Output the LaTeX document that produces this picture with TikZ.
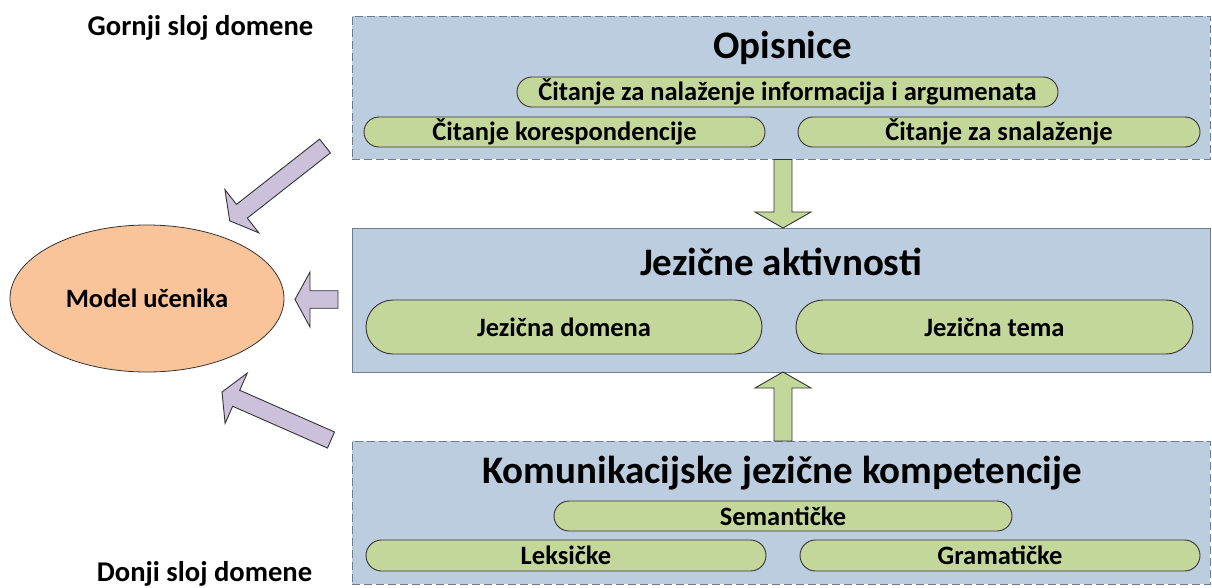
\documentclass[tikz,border=0pt]{standalone}
\usepackage{fontspec}
\setmainfont{Carlito}
\usetikzlibrary{calc,shapes.misc,shapes.geometric}
\definecolor{boxfill}{HTML}{BDCDE0}
\definecolor{boxline}{HTML}{6F7C8C}
\definecolor{pillfill}{HTML}{C4D79B}
\definecolor{ellfill}{HTML}{F9C49A}
\definecolor{purp}{HTML}{CCC1DA}
\newcommand{\blockarr}[6]{%
  \coordinate (#2-hb) at ($(#3)!#6pt!(#2)$);
  \path[#1] ($(#2)!#4pt!90:(#3)$) -- ($(#2-hb)!#4pt!90:(#3)$) -- ($(#2-hb)!#5pt!90:(#3)$) -- (#3)
    -- ($(#2-hb)!#5pt!-90:(#3)$) -- ($(#2-hb)!#4pt!-90:(#3)$) -- ($(#2)!#4pt!-90:(#3)$) -- cycle;}
\begin{document}
\begin{tikzpicture}[x=1pt,y=-1pt,
  layerbox/.style={fill=boxfill,draw=boxline,line width=0.9pt,inner sep=0pt},
  dashbox/.style={layerbox,dash pattern=on 8pt off 4pt},
  pill/.style={shape=rounded rectangle,fill=pillfill,draw=black!80,line width=0.9pt,inner sep=0pt,
    font=\fontsize{26.5}{30}\selectfont\bfseries},
  ttl/.style={font=\fontsize{39}{44}\selectfont\bfseries,inner sep=0pt},
  side/.style={font=\fontsize{28.6}{32}\selectfont\bfseries,inner sep=0pt},
  greenarr/.style={fill=pillfill,draw=black!80,line width=0.9pt,line join=miter},
  purparr/.style={fill=purp,draw=black!80,line width=0.9pt,line join=miter}]
\useasboundingbox (0,0) rectangle (1212,587);
% layer boxes
\node[dashbox,minimum width=858,minimum height=143] (top) at (781,87.5) {};
\node[layerbox,minimum width=858,minimum height=144] (mid) at (781,300) {};
\node[dashbox,minimum width=858,minimum height=143] (bot) at (781,512.5) {};
% titles
\node[ttl] (t1) at (783,47.5) {Opisnice};
\node[ttl] (t2) at (781,262) {Jezične aktivnosti};
\node[ttl] (t3) at (782,473) {Komunikacijske jezične kompetencije};
% pills top
\node[pill,minimum width=541,minimum height=30] (p1) at (787.5,92) {Čitanje za nalaženje informacija i argumenata};
\node[pill,minimum width=401,minimum height=30] (p2) at (564.5,132) {Čitanje korespondencije};
\node[pill,minimum width=402,minimum height=30] (p3) at (999,132) {Čitanje za snalaženje};
% pills middle
\node[pill,minimum width=396,minimum height=54] (p4) at (564,327) {Jezična domena};
\node[pill,minimum width=397,minimum height=54] (p5) at (994.5,327) {Jezična tema};
% pills bottom
\node[pill,minimum width=458,minimum height=30] (p6) at (783,516) {Semantičke};
\node[pill,minimum width=400,minimum height=31] (p7) at (566,555.5) {Leksičke};
\node[pill,minimum width=400,minimum height=31] (p8) at (1000,555.5) {Gramatičke};
% ellipse
\node[ellipse,fill=ellfill,draw=black!80,line width=0.8pt,minimum width=274,minimum height=147,inner sep=0pt,
  font=\fontsize{26.5}{30}\selectfont\bfseries] (model) at (147,298.5) {Model učenika};
% side labels
\node[side] (gornji) at (200.5,28) {Gornji sloj domene};
\node[side] (donji) at (204.5,574) {Donji sloj domene};
% green arrows
\coordinate (gd1) at (783,159.5);
\coordinate (gd2) at (783,228);
\coordinate (gu1) at (783,441);
\coordinate (gu2) at (783,372);
\blockarr{greenarr}{gd1}{gd2}{9}{28}{16}
\blockarr{greenarr}{gu1}{gu2}{9}{28}{16}
% purple arrows
\coordinate (pa1) at (325,146);
\coordinate (pa2) at (229.7,220.8);
\coordinate (pb1) at (338,299.5);
\coordinate (pb2) at (295,299.5);
\coordinate (pc1) at (331,440);
\coordinate (pc2) at (222,392);
\blockarr{purparr}{pa1}{pa2}{8.75}{27.5}{15.5}
\blockarr{purparr}{pb1}{pb2}{8.75}{27.5}{15}
\blockarr{purparr}{pc1}{pc2}{8.75}{27.5}{15.5}
\end{tikzpicture}
\end{document}
